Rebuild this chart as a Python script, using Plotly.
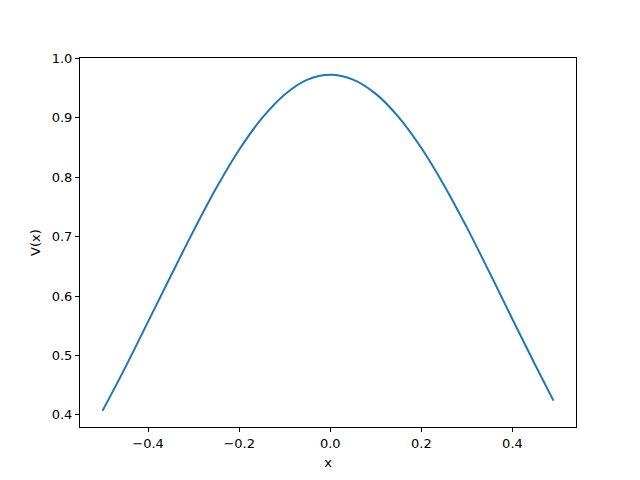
import plotly.graph_objects as go

x_vals = [-0.50, -0.45, -0.40, -0.35, -0.30, -0.25, -0.20, -0.15, -0.10, -0.05, 0.00,
          0.05, 0.10, 0.15, 0.20, 0.25, 0.30, 0.35, 0.40, 0.45, 0.49]
v_vals = [0.407, 0.480, 0.557, 0.634, 0.710, 0.782, 0.846, 0.899, 0.939, 0.964, 0.972,
          0.964, 0.940, 0.901, 0.849, 0.786, 0.715, 0.639, 0.561, 0.484, 0.424]

x_ticks = [-0.4, -0.2, 0.0, 0.2, 0.4]
x_ticklabels = ["−0.4", "−0.2", "0.0", "0.2", "0.4"]
y_ticks = [0.4, 0.5, 0.6, 0.7, 0.8, 0.9, 1.0]
y_ticklabels = ["0.4", "0.5", "0.6", "0.7", "0.8", "0.9", "1.0"]

fig = go.Figure()
fig.add_trace(go.Scatter(x=x_vals, y=v_vals, mode="lines",
                         line=dict(color="#1f77b4", width=2, shape="spline", smoothing=1.0),
                         showlegend=False))

axis_common = dict(showline=True, linecolor="black", linewidth=1, mirror=True,
                   ticks="outside", ticklen=4, tickwidth=1, tickcolor="black",
                   showgrid=False, zeroline=False,
                   tickfont=dict(family="DejaVu Sans", size=13, color="black"))

fig.update_layout(
    width=640, height=480,
    margin=dict(l=72, r=72, t=50, b=61),
    paper_bgcolor="white", plot_bgcolor="white",
    font=dict(family="DejaVu Sans", size=13, color="black"),
    xaxis=dict(range=[-0.5495, 0.5395], tickvals=x_ticks, ticktext=x_ticklabels,
               title=dict(text="x", standoff=8, font=dict(size=13)), **axis_common),
    yaxis=dict(range=[0.3797, 1.0003], tickvals=y_ticks, ticktext=y_ticklabels,
               title=dict(text="V(x)", standoff=8, font=dict(size=13)), **axis_common),
)

fig.write_html("out.html")
